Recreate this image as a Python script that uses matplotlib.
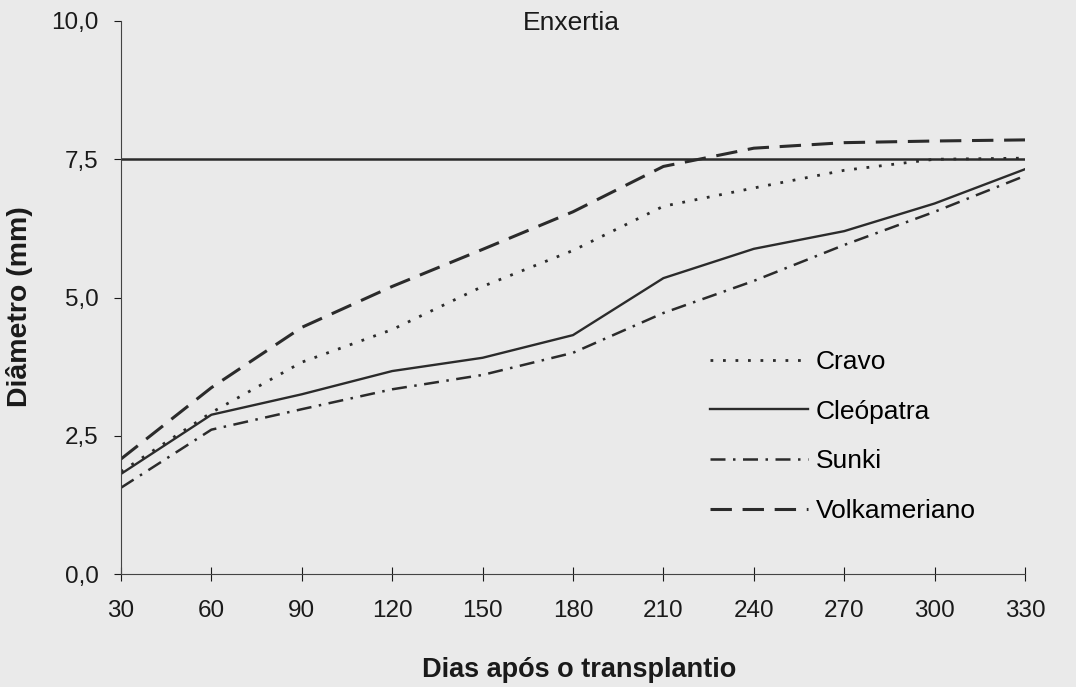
import matplotlib.pyplot as plt

# dados (diametro do caule, mm)
dias = [30, 60, 90, 120, 150, 180, 210, 240, 270, 300, 330]
cravo = [1.85, 2.92, 3.83, 4.42, 5.2, 5.85, 6.65, 6.98, 7.3, 7.5, 7.52]
cleopatra = [1.81, 2.88, 3.25, 3.67, 3.91, 4.32, 5.35, 5.88, 6.2, 6.7, 7.32]
sunki = [1.56, 2.61, 2.98, 3.34, 3.6, 4.0, 4.72, 5.3, 5.95, 6.55, 7.2]
volkameriano = [2.08, 3.37, 4.46, 5.2, 5.87, 6.55, 7.37, 7.7, 7.8, 7.83, 7.85]
enxertia = 7.5

yticks = [0, 2.5, 5.0, 7.5, 10.0]
ylabels = ["0,0", "2,5", "5,0", "7,5", "10,0"]

plt.rcParams['font.family'] = ['Liberation Sans', 'DejaVu Sans']
fundo = '#eaeaea'
cor = '#2b2b2b'

W, H = 1076, 687
fig = plt.figure(figsize=(W / 100, H / 100), dpi=100, facecolor=fundo)
ax = fig.add_axes([121 / W, 1 - 574 / H, 904 / W, 553 / H])
ax.set_facecolor(fundo)

ax.axhline(enxertia, color=cor, lw=1.8)
ax.plot(dias, cravo, color=cor, lw=2, linestyle=(0, (1, 3.5)), label='Cravo')
ax.plot(dias, cleopatra, color=cor, lw=1.7, linestyle='-', label='Cleópatra')
ax.plot(dias, sunki, color=cor, lw=1.8, linestyle=(0, (6, 3, 1, 3)), label='Sunki')
ax.plot(dias, volkameriano, color=cor, lw=2.2, linestyle=(0, (7, 3.5)), label='Volkameriano')

fig.text(571 / W, 1 - 23 / H, 'Enxertia', fontsize=19, ha='center', va='center', color='#1a1a1a')

ax.set_xlim(30, 330)
ax.set_ylim(0, 10)
ax.set_xticks(dias)
ax.set_yticks(yticks)
ax.set_yticklabels(ylabels)
ax.tick_params(axis='both', labelsize=17.5, colors='#1a1a1a', width=0.8)
ax.tick_params(axis='x', direction='inout', length=10, pad=14)
ax.tick_params(axis='y', direction='out', length=5, pad=11)
for s in ['top', 'right']:
    ax.spines[s].set_visible(False)
for s in ['left', 'bottom']:
    ax.spines[s].set_color('#444444')
    ax.spines[s].set_linewidth(0.8)

fig.text(20 / W, 1 - 307 / H, 'Diâmetro (mm)', fontsize=20.5, fontweight='bold',
         rotation=90, ha='center', va='center', color='#1a1a1a')
fig.text(579 / W, 1 - 670 / H, 'Dias após o transplantio', fontsize=19.5,
         fontweight='bold', ha='center', va='center', color='#1a1a1a')

ax.legend(loc='upper left', bbox_to_anchor=(710 / W, 1 - 350 / H),
          bbox_transform=fig.transFigure, frameon=False, fontsize=19,
          handlelength=3.7, handletextpad=0.3, labelspacing=0.97,
          borderpad=0, borderaxespad=0)

fig.savefig('out.png', dpi=100, facecolor=fundo)
